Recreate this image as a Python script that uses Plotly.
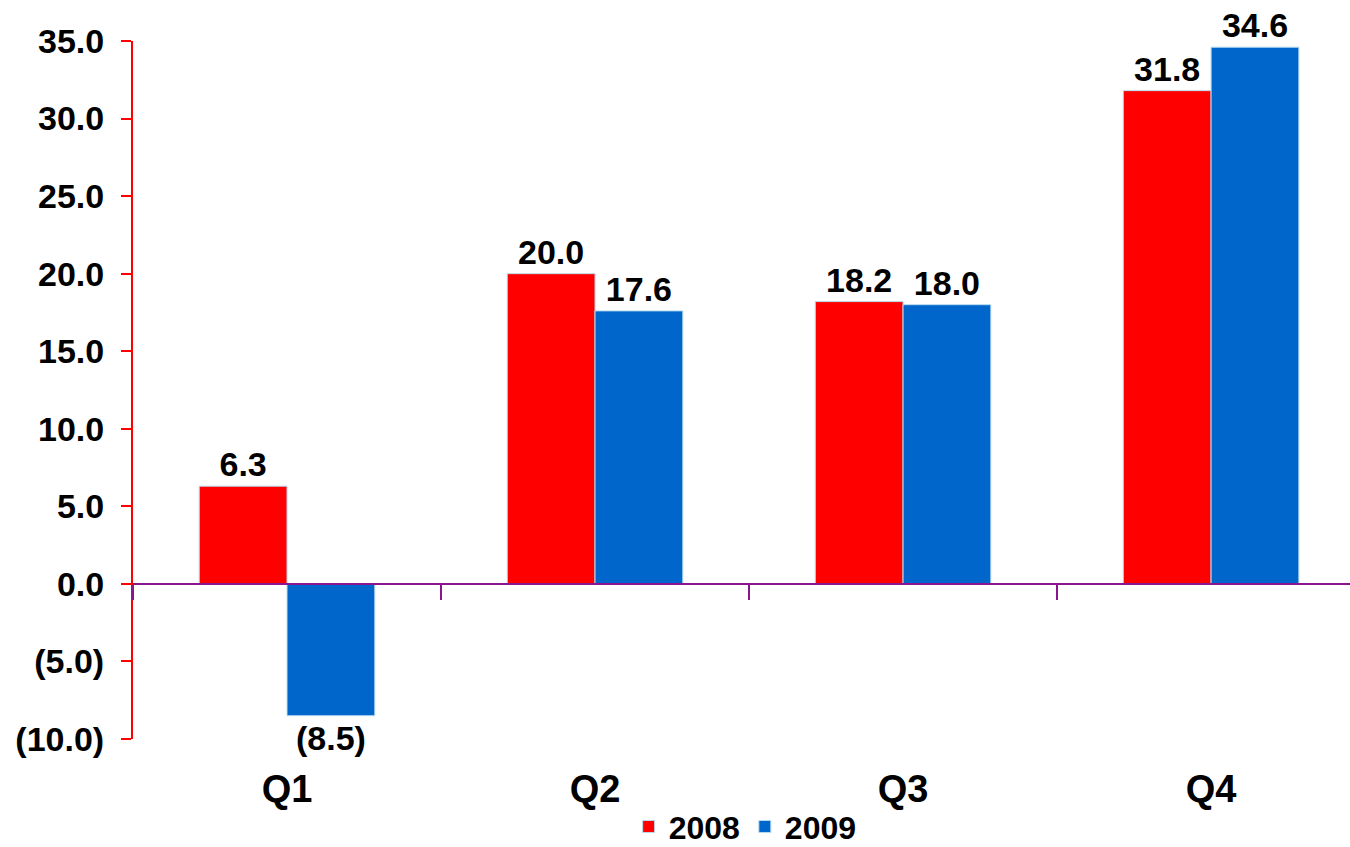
import plotly.graph_objects as go

quarters = ["Q1", "Q2", "Q3", "Q4"]
values_2008 = [6.3, 20.0, 18.2, 31.8]
values_2009 = [-8.5, 17.6, 18.0, 34.6]
y_ticks = [-10, -5, 0, 5, 10, 15, 20, 25, 30, 35]


def fmt(v):
    # accounting style: negatives in parentheses
    return f"({abs(v):.1f})" if v < 0 else f"{v:.1f}"


FONT = "Liberation Sans, Arial, sans-serif"
label_font = dict(family=FONT, size=34, color="black", weight="bold")

fig = go.Figure()
fig.add_trace(go.Bar(
    name="2008", x=quarters, y=values_2008,
    text=[fmt(v) for v in values_2008], textposition="outside",
    textfont=label_font, cliponaxis=False,
    marker=dict(color="#FF0000", line=dict(color="#B8DCEC", width=1)),
))
fig.add_trace(go.Bar(
    name="2009", x=quarters, y=values_2009,
    text=[fmt(v) for v in values_2009], textposition="outside",
    textfont=label_font, cliponaxis=False,
    marker=dict(color="#0066CC", line=dict(color="#B8DCEC", width=1)),
))

fig.update_layout(
    width=1350, height=847,
    margin=dict(l=133, r=0, t=41, b=108, autoexpand=False),
    paper_bgcolor="white", plot_bgcolor="white",
    barmode="group", bargap=0.43, bargroupgap=0,
    font=dict(family=FONT, color="black"),
    showlegend=True,
    legend=dict(orientation="h", x=0.503, xanchor="center",
                yref="container", y=0.024, yanchor="middle",
                font=dict(family=FONT, size=32, color="black", weight="bold"),
                itemwidth=30, traceorder="normal"),
    xaxis=dict(
        range=[-0.5, 3.451],
        anchor="free", position=10 / 45, automargin=False,
        showline=True, linecolor="#8B1491", linewidth=2,
        ticks="outside", tickson="boundaries", ticklen=15, tickwidth=2, tickcolor="#8B1491",
        tickfont=dict(family=FONT, size=38, color="black", weight="bold"),
        ticklabelstandoff=172,
        showgrid=False, zeroline=False,
    ),
    yaxis=dict(
        range=[-10, 35], automargin=False,
        tickvals=y_ticks, ticktext=[fmt(v) for v in y_ticks],
        tickfont=dict(family=FONT, size=34, color="black", weight="bold"),
        showline=True, linecolor="#FF0000", linewidth=2,
        ticks="outside", ticklen=10, tickwidth=2, tickcolor="#FF0000",
        ticklabelstandoff=10,
        showgrid=False, zeroline=False,
    ),
)

fig.write_html("out.html")
